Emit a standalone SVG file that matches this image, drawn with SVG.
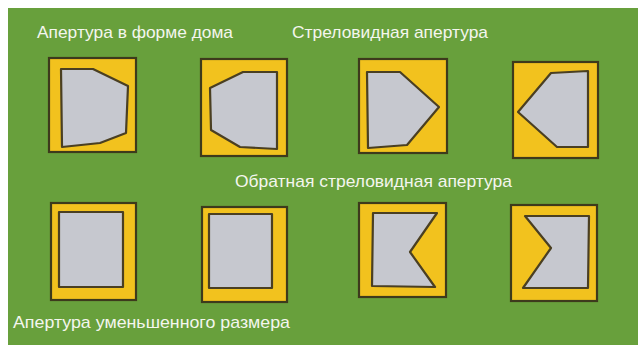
<svg xmlns="http://www.w3.org/2000/svg" width="638" height="345" viewBox="0 0 638 345">
<style>
.frame{fill:#f2c21e;stroke:#3d3a1c;stroke-width:2.2}
.hole{fill:#c6c8cf;stroke:#4a3f22;stroke-width:2.2;stroke-linejoin:round}
.lbl{font-family:"Liberation Sans",Arial,sans-serif;font-size:17px;fill:#f4f6ee}
</style>
<rect x="0" y="0" width="638" height="345" fill="#ffffff"/>
<rect x="8" y="8" width="630" height="337" fill="#68a03c"/>
<g id="labels">
<text class="lbl" x="37" y="38" textLength="196" lengthAdjust="spacingAndGlyphs">Апертура в форме дома</text>
<text class="lbl" x="292" y="38" textLength="196" lengthAdjust="spacingAndGlyphs">Стреловидная апертура</text>
<text class="lbl" x="235" y="187" textLength="277" lengthAdjust="spacingAndGlyphs">Обратная стреловидная апертура</text>
<text class="lbl" x="13" y="328" textLength="277" lengthAdjust="spacingAndGlyphs">Апертура уменьшенного размера</text>
</g>
<g id="house-right">
<rect class="frame" x="49" y="58" width="87" height="94"/>
<polygon class="hole" points="61,69 93,69 128,86 126,133 100,143 62,147"/>
</g>
<g id="house-left">
<rect class="frame" x="201" y="59" width="86" height="97"/>
<polygon class="hole" points="243,72 277,72 277,149 240,147 211,130 210,88"/>
</g>
<g id="arrow-right">
<rect class="frame" x="359" y="59" width="88" height="94"/>
<polygon class="hole" points="367,72 400,72 439,107 407,145 368,148"/>
</g>
<g id="arrow-left">
<rect class="frame" x="513" y="62" width="85" height="96"/>
<polygon class="hole" points="551,73 588,71 588,147 557,147 518,112"/>
</g>
<g id="reduced-1">
<rect class="frame" x="51" y="203" width="85" height="97"/>
<rect class="hole" x="59" y="212" width="64" height="75"/>
</g>
<g id="reduced-2">
<rect class="frame" x="202" y="207" width="85" height="95"/>
<rect class="hole" x="209" y="214" width="63" height="74"/>
</g>
<g id="reverse-arrow-1">
<rect class="frame" x="359" y="203" width="87" height="94"/>
<polygon class="hole" points="373,213 437,213 410,252 435,287 372,286"/>
</g>
<g id="reverse-arrow-2">
<rect class="frame" x="511" y="205" width="86" height="96"/>
<polygon class="hole" points="525,216 589,216 588,288 523,288 551,248"/>
</g>
<g id="connectors"/>
</svg>
